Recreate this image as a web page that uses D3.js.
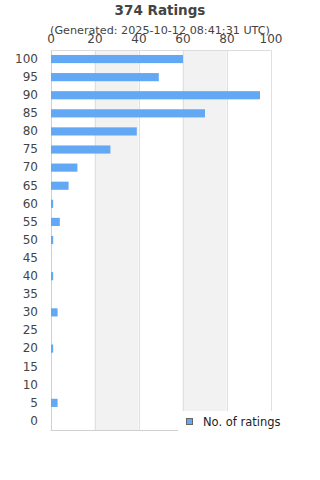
<!DOCTYPE html>
<html>
<head>
<meta charset="utf-8">
<script src="https://cdn.jsdelivr.net/npm/d3@7.9.0/dist/d3.min.js"></script>
<style>
  body { margin: 0; background: #fff; }
  svg { font-family: "DejaVu Sans", sans-serif; display: block; }
</style>
</head>
<body>
<svg id="chart" width="320" height="480"></svg>
<script>
const ratings = [100, 95, 90, 85, 80, 75, 70, 65, 60, 55, 50, 45, 40, 35, 30, 25, 20, 15, 10, 5, 0];
const counts = [60, 49, 95, 70, 39, 27, 12, 8, 1, 4, 1, 0, 1, 0, 3, 0, 1, 0, 0, 3, 0];
const xTicks = [0, 20, 40, 60, 80, 100];
const shadedBands = [[20, 40], [60, 80]];

const title = '374 Ratings';
const subtitle = '(Generated: 2025-10-12 08:41:31 UTC)';
const seriesName = 'No. of ratings';

const margin = { top: 50, right: 50, bottom: 50, left: 50 };
const width = 320, height = 480;

let svg = d3.select('#chart');

let x = d3.scaleLinear().domain([0, 100]).range([margin.left + 0.5, width - margin.right + 0.5]);
let y = d3.scaleBand()
  .domain(ratings)
  .range([margin.top, height - margin.bottom])
  .paddingInner(0.55)
  .paddingOuter(0.275);

// Shaded bands
svg.selectAll('rect.band')
  .data(shadedBands)
  .join('rect')
  .attr('class', 'band')
  .attr('x', (d) => x(d[0]))
  .attr('width', (d) => x(d[1]) - x(d[0]))
  .attr('y', margin.top)
  .attr('height', height - margin.top - margin.bottom)
  .attr('fill', '#f2f2f2');

// Gridlines
svg.selectAll('line.grid')
  .data(xTicks)
  .join('line')
  .attr('class', 'grid')
  .attr('x1', (d) => Math.round(x(d)) + 0.5)
  .attr('x2', (d) => Math.round(x(d)) + 0.5)
  .attr('y1', margin.top)
  .attr('y2', height - margin.bottom)
  .attr('stroke', (d) => (d === 0 ? '#d0d0d0' : '#e0e0e0'))
  .attr('stroke-width', 1);

// Top border and bottom line
svg.append('line')
  .attr('x1', x(0)).attr('x2', x(100))
  .attr('y1', margin.top + 0.5).attr('y2', margin.top + 0.5)
  .attr('stroke', '#dcdcdc');
svg.append('line')
  .attr('x1', x(0)).attr('x2', x(100))
  .attr('y1', height - margin.bottom + 0.5).attr('y2', height - margin.bottom + 0.5)
  .attr('stroke', '#d0d0d0');

// Bars
svg.selectAll('rect.bar')
  .data(ratings.map((r, i) => ({ rating: r, count: counts[i] })))
  .join('rect')
  .attr('class', 'bar')
  .attr('x', x(0) + 0.5)
  .attr('y', (d) => y(d.rating))
  .attr('width', (d) => Math.max(0, x(d.count) - x(0)))
  .attr('height', y.bandwidth())
  .attr('fill', '#62a8f4');

// Top axis
let xAxis = svg.append('g')
  .attr('transform', `translate(0,${margin.top})`)
  .call(d3.axisTop(x).tickValues(xTicks).tickSize(0).tickPadding(7));
xAxis.select('.domain').remove();
xAxis.selectAll('text')
  .attr('font-size', 12)
  .attr('fill', '#444')
  .attr('font-family', '"DejaVu Sans", sans-serif');

// Left axis
let yAxis = svg.append('g')
  .attr('transform', `translate(${margin.left},0)`)
  .call(d3.axisLeft(y).tickSize(0).tickPadding(12));
yAxis.select('.domain').remove();
yAxis.selectAll('text')
  .attr('font-size', 12)
  .attr('fill', '#444')
  .attr('font-family', '"DejaVu Sans", sans-serif');

// Title
svg.append('text')
  .attr('x', width / 2).attr('y', 15)
  .attr('text-anchor', 'middle')
  .attr('font-size', 13.5)
  .attr('font-weight', 'bold')
  .attr('fill', '#444')
  .text(title);
svg.append('text')
  .attr('x', width / 2).attr('y', 34)
  .attr('text-anchor', 'middle')
  .attr('font-size', 11.2)
  .attr('fill', '#444')
  .text(subtitle);

// Legend
let legend = svg.append('g').attr('transform', 'translate(178,411)');
legend.append('rect')
  .attr('width', 115).attr('height', 22)
  .attr('fill', '#fff');
legend.append('rect')
  .attr('x', 8.5).attr('y', 7.5)
  .attr('width', 6).attr('height', 6)
  .attr('fill', '#62a8f4')
  .attr('stroke', '#666');
legend.append('text')
  .attr('x', 25).attr('y', 15)
  .attr('font-size', 11.5)
  .attr('fill', '#222')
  .text(seriesName);
</script>
</body>
</html>
